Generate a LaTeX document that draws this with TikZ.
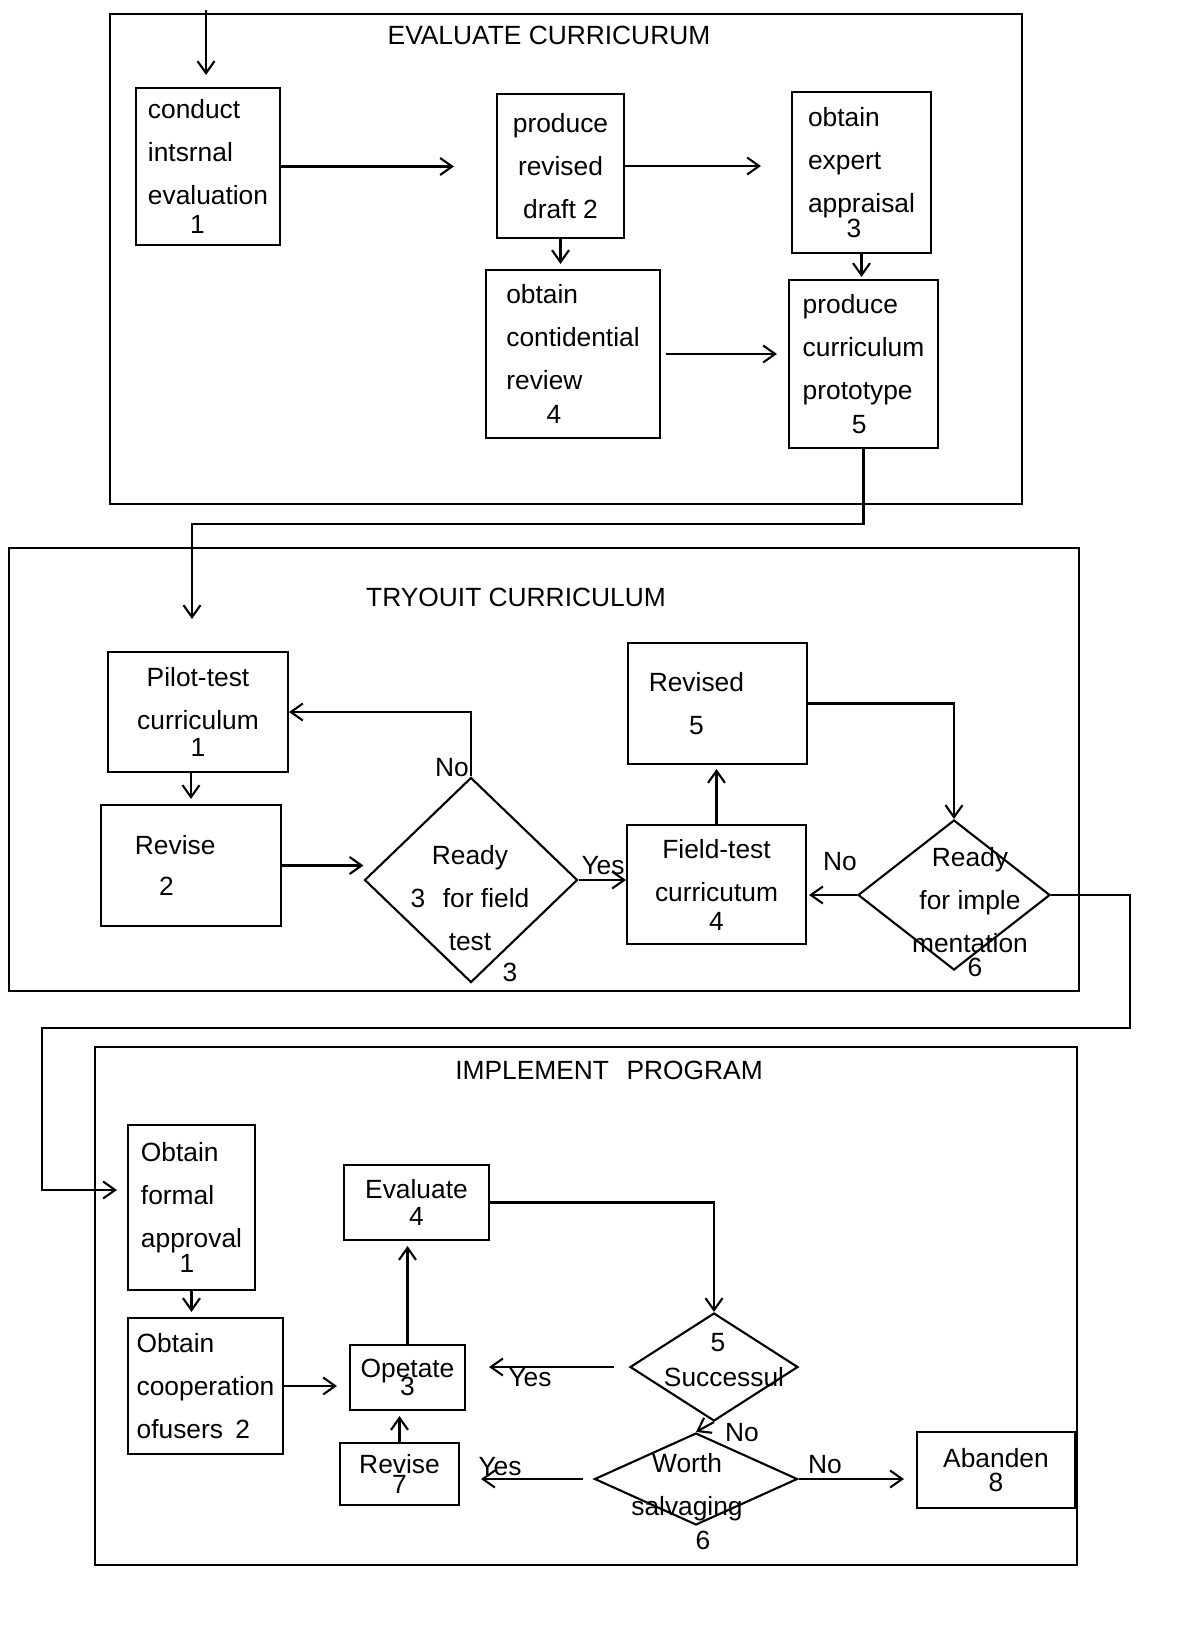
\documentclass[tikz,border=0pt]{standalone}
\usepackage{fontspec}
\setmainfont{Liberation Sans}
\usetikzlibrary{shapes.geometric,arrows.meta}

\begin{document}
\begin{tikzpicture}
  [x=0.02cm, y=-0.02cm,
   box/.style={draw, line width=1.2pt, inner sep=0pt, font=\fontsize{15}{24.5}\selectfont},
   wh/.style 2 args={minimum width=#1*0.02cm, minimum height=#2*0.02cm},
   cond/.style={diamond, draw, line width=1.2pt, inner sep=0pt},
   lbl/.style={inner sep=0pt, align=center, font=\fontsize{15}{24.5}\selectfont},
   arr/.style={-{Straight Barb[length=2.4mm,width=3.4mm]}, line width=1.2pt},
   frame/.style={line width=1.1pt},
   ttl/.style={inner sep=0pt, font=\fontsize{15}{18}\selectfont}]

  \useasboundingbox (0,0) rectangle (1177,1627);

  % evaluate curriculum
  \draw[frame] (110,14) rectangle (1022,504);
  \node[ttl] (ttl1) at (549,35) {EVALUATE CURRICURUM};
  \node[box, wh={144}{157}, align=left] (e1) at (208,166.5) {conduct\\intsrnal\\evaluation\\[-8pt]\hspace*{24pt}1};
  \node[box, wh={127}{144}, align=center] (e2) at (560.5,166) {produce\\revised\\draft 2};
  \node[box, wh={139}{161}, align=left] (e3) at (861.5,172.5) {obtain\\expert\\appraisal\\[-10pt]\hspace*{22pt}3};
  \node[box, wh={174}{168}, align=left] (e4) at (573,354) {obtain\\contidential\\review\\[-5pt]\hspace*{23pt}4};
  \node[box, wh={149}{168}, align=left] (e5) at (863.5,364) {produce\\curriculum\\prototype\\[-5pt]\hspace*{28pt}5};

  \coordinate (in) at (206,10);
  \draw[arr, shorten >=0.24cm] (in) -- (in |- e1.north);
  \draw[arr, shorten >=0.84cm] (e1.east) -- (e1.east -| e2.west);
  \draw[arr, shorten >=0.6cm] (e2.east) -- (e2.east -| e3.west);
  \draw[arr, shorten >=0.1cm] (e2.south) -- (e2.south |- e4.north);
  \draw[arr, shorten >=0.04cm] (e3.south) -- (e3.south |- e5.north);
  \draw[arr, shorten <=0.1cm, shorten >=0.22cm] (e4.east) -- (e4.east -| e5.west);

  % tryout curriculum
  \draw[frame] (9,548) rectangle (1079,991);
  \node[ttl] (ttl2) at (516,597) {TRYOUIT CURRICULUM};
  \node[box, wh={180}{120}, align=center] (t1) at (198,712) {Pilot-test\\curriculum\\[-9pt]1};
  \node[box, wh={180}{121}, align=center] (t2) at (191,865.5) {\hspace*{-18pt}Revise\\[-1pt]\hspace*{-28pt}2};
  \node[cond, wh={213}{205}] (t3) at (471,880) {};
  \node[lbl] (t3t) at (470,898) {Ready\\3\hspace{10pt}for field\\test};
  \node[lbl] (t3n) at (510,972) {3};
  \node[box, wh={179}{119}, align=center] (t4) at (716.5,884.5) {Field-test\\curricutum\\[-8pt]4};
  \node[box, wh={179}{121}, align=center] (t5) at (717.5,703.5) {\hspace*{-24pt}Revised\\\hspace*{-24pt}5};
  \node[cond, wh={192}{150}] (t6) at (954,895) {};
  \node[lbl] (t6t) at (970,900) {Ready\\for imple\\mentation};
  \node[lbl] (t6n) at (975,967) {6};

  \coordinate (j1) at (192,524);
  \draw[arr, shorten >=0.64cm] (e5.south) |- (j1) -- (j1 |- t1.north);
  \draw[arr, shorten >=0.1cm] (t2.north |- t1.south) -- (t2.north);
  \draw[arr] (t2.east) -- (t2.east -| t3.west);
  \draw[arr] (t3.north) |- (t1.east);
  \node[lbl] (no1) at (452,768) {No};
  \draw[arr] (t3.east) -- (t3.east -| t4.west);
  \node[lbl] (yes1) at (603,866) {Yes};
  \draw[arr, shorten >=0.08cm] (t4.north) -- (t4.north |- t5.south);
  \draw[arr] (t5.east) -| (t6.north);
  \draw[arr, shorten >=0.04cm] (t6.west) -- (t6.west -| t4.east);
  \node[lbl] (no2) at (840,862) {No};

  % implement program
  \draw[frame] (95,1047) rectangle (1077,1565);
  \node[ttl] (ttl3) at (609,1070) {IMPLEMENT\hspace{10pt}PROGRAM};
  \node[box, wh={127}{165}, align=left] (p1) at (191.5,1207.5) {Obtain\\formal\\approval\\[-10pt]\hspace*{22pt}1};
  \node[box, wh={155}{136}, align=left] (p2) at (205.5,1386) {Obtain\\cooperation\\ofusers\hspace{7pt}2};
  \node[box, wh={115}{65}, align=center] (p3) at (407.5,1377.5) {Opetate\\[-14pt]3};
  \node[box, wh={145}{75}, align=center] (p4) at (416.5,1202.5) {Evaluate\\[-9pt]4};
  \node[cond, wh={168}{108}] (p5) at (714,1367) {};
  \node[lbl] (p5n) at (718,1343) {5};
  \node[lbl] (p5t) at (724,1377) {Successul};
  \node[cond, wh={203}{92}] (p6) at (696,1479) {};
  \node[lbl] (p6t) at (687,1487) {Worth\\salvaging};
  \node[lbl] (p6n) at (703,1540) {6};
  \node[box, wh={119}{62}, align=center] (p7) at (399.5,1474) {Revise\\[-13pt]7};
  \node[box, wh={158}{76}, align=center] (p8) at (996,1470) {Abanden\\[-11pt]8};

  \coordinate (j2) at (1130,1028);
  \coordinate (j3) at (42,1190);
  \draw[arr, shorten >=0.2cm] (t6.east) -| (j2) -| (j3) -- (j3 -| p1.west);
  \draw[arr, shorten >=0.1cm] (p1.south) -- (p1.south |- p2.north);
  \draw[arr, shorten >=0.24cm] (p2.east) -- (p2.east -| p3.west);
  \draw[arr, shorten >=0.1cm] (p3.north) -- (p3.north |- p4.south);
  \draw[arr] (p4.east) -| (p5.north);
  \draw[arr, shorten <=0.3cm, shorten >=0.46cm] (p5.west) -- (p5.west -| p3.east);
  \node[lbl] (yes2) at (530,1378) {Yes};
  \draw[arr] (p5.south) -- (p6.north);
  \node[lbl] (no3) at (742,1433) {No};
  \draw[arr, shorten <=0.2cm, shorten >=0.42cm] (p6.west) -- (p6.west -| p7.east);
  \node[lbl] (yes3) at (500,1467) {Yes};
  \draw[arr, shorten >=0.1cm] (p7.north) -- (p7.north |- p3.south);
  \draw[arr, shorten >=0.24cm] (p6.east) -- (p6.east -| p8.west);
  \node[lbl] (no4) at (825,1465) {No};
\end{tikzpicture}
\end{document}
